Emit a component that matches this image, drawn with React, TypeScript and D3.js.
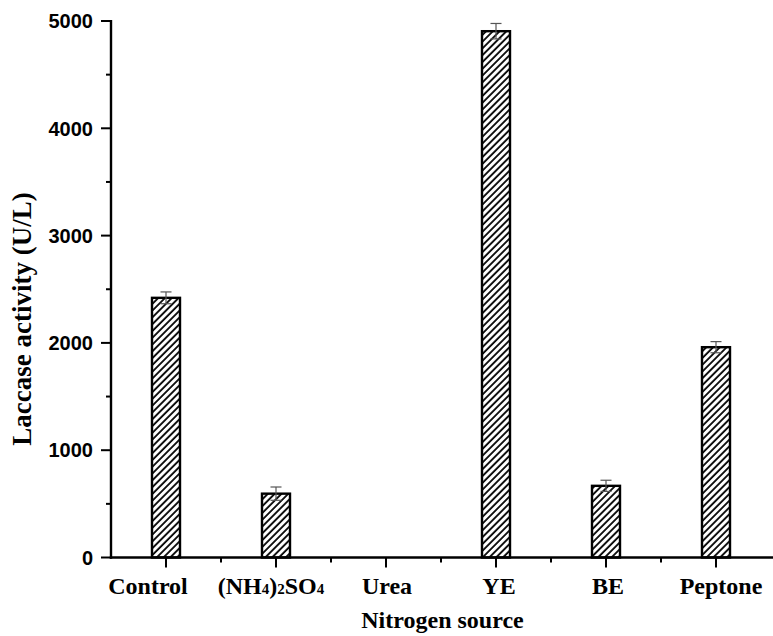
import React, { useEffect, useRef } from 'react';
import * as d3 from 'd3';

// nitrogen sources and laccase activity (U/L)
const categories = ['Control', '(NH4)2SO4', 'Urea', 'YE', 'BE', 'Peptone'];
const activity = [2420, 595, 0, 4905, 668, 1960];
const errors = [55, 62, 0, 72, 52, 52];
const yTicks = [0, 1000, 2000, 3000, 4000, 5000];

const W = 773;
const H = 636;

// small horizontal nudges of the category labels, as in the original figure
const labelShift = [-18, -5, 1, 3, 2, 5];

export default function App() {
  const svgRef = useRef<SVGSVGElement>(null);

  useEffect(() => {
    if (!svgRef.current) return;
    document.body.style.margin = '0';

    const svg = d3.select(svgRef.current);
    svg.selectAll('*').remove();

    const left = 111, right = 771, top = 21, bottom = 557.5;

    const x = d3.scalePoint<string>().domain(categories).range([left, right]).padding(0.5);
    const step = x.step();
    const y = d3.scaleLinear().domain([0, 5000]).range([bottom, top]);

    // hatch pattern
    const defs = svg.append('defs');
    defs.append('pattern')
      .attr('id', 'hatch')
      .attr('patternUnits', 'userSpaceOnUse')
      .attr('width', 4.8)
      .attr('height', 10)
      .attr('patternTransform', 'rotate(45)')
      .append('line')
      .attr('x1', 1).attr('y1', 0)
      .attr('x2', 1).attr('y2', 10)
      .attr('stroke', '#000')
      .attr('stroke-width', 1.8);

    const barW = 28;
    const data = categories.map((c, i) => ({ c, v: activity[i], e: errors[i] }));

    // bars
    svg.append('g')
      .selectAll('rect')
      .data(data.filter(d => d.v > 0))
      .join('rect')
      .attr('x', d => (x(d.c) as number) - barW / 2)
      .attr('y', d => y(d.v))
      .attr('width', barW)
      .attr('height', d => y(0) - y(d.v))
      .attr('fill', 'url(#hatch)')
      .attr('stroke', '#000')
      .attr('stroke-width', 2.4);

    // error bars
    const eg = svg.append('g').attr('stroke', '#555').attr('stroke-width', 1.2);
    data.filter(d => d.v > 0).forEach(d => {
      const cx = x(d.c) as number;
      eg.append('line').attr('x1', cx).attr('x2', cx).attr('y1', y(d.v + d.e)).attr('y2', y(d.v - d.e));
      eg.append('line').attr('x1', cx - 5.5).attr('x2', cx + 5.5).attr('y1', y(d.v + d.e)).attr('y2', y(d.v + d.e));
      eg.append('line').attr('x1', cx - 5.5).attr('x2', cx + 5.5).attr('y1', y(d.v - d.e)).attr('y2', y(d.v - d.e));
    });

    // y axis
    const ya = svg.append('g');
    ya.append('line').attr('x1', left).attr('x2', left).attr('y1', top - 1).attr('y2', bottom + 1.2)
      .attr('stroke', '#000').attr('stroke-width', 2.4);
    const minorY = d3.range(500, 5000, 1000);
    ya.selectAll('line.maj').data(yTicks).join('line').attr('class', 'maj')
      .attr('x1', left - 10).attr('x2', left).attr('y1', d => y(d)).attr('y2', d => y(d))
      .attr('stroke', '#000').attr('stroke-width', 2);
    ya.selectAll('line.min').data(minorY).join('line').attr('class', 'min')
      .attr('x1', left - 5).attr('x2', left).attr('y1', d => y(d)).attr('y2', d => y(d))
      .attr('stroke', '#000').attr('stroke-width', 2);
    ya.selectAll('text').data(yTicks).join('text')
      .attr('x', left - 18).attr('y', d => y(d)).attr('dy', '0.36em')
      .attr('text-anchor', 'end')
      .attr('font-family', 'Liberation Sans, Arial, sans-serif')
      .attr('font-weight', 'bold').attr('font-size', 20)
      .text(d => d);

    // x axis
    const xa = svg.append('g');
    xa.append('line').attr('x1', left - 1.2).attr('x2', W).attr('y1', bottom).attr('y2', bottom)
      .attr('stroke', '#000').attr('stroke-width', 2.4);
    xa.selectAll('line.maj').data(categories).join('line').attr('class', 'maj')
      .attr('x1', d => x(d) as number).attr('x2', d => x(d) as number)
      .attr('y1', bottom).attr('y2', bottom + 10)
      .attr('stroke', '#000').attr('stroke-width', 2);
    const minorX = categories.slice(1).map(c => (x(c) as number) - step / 2);
    xa.selectAll('line.min').data(minorX).join('line').attr('class', 'min')
      .attr('x1', d => d).attr('x2', d => d)
      .attr('y1', bottom).attr('y2', bottom + 5)
      .attr('stroke', '#000').attr('stroke-width', 2);

    const serif = 'Liberation Serif, Times New Roman, serif';
    xa.selectAll('text').data(categories).join('text')
      .attr('x', (d, i) => (x(d) as number) + labelShift[i]).attr('y', 594)
      .attr('text-anchor', 'middle')
      .attr('font-family', serif).attr('font-weight', 'bold').attr('font-size', 24)
      .each(function (d) {
        const t = d3.select(this);
        if (d === '(NH4)2SO4') {
          const parts: [string, boolean][] = [['(NH', false], ['4', true], [')', false], ['2', true], ['SO', false], ['4', true]];
          parts.forEach(([s, sub]) => {
            t.append('tspan').attr('font-size', sub ? 15 : 24).text(s);
          });
        } else {
          t.text(d);
        }
      });

    svg.append('text')
      .attr('x', (left + right) / 2 + 1.5).attr('y', 628)
      .attr('text-anchor', 'middle')
      .attr('font-family', serif).attr('font-weight', 'bold').attr('font-size', 24)
      .text('Nitrogen source');

    svg.append('text')
      .attr('transform', `translate(31,319) rotate(-90)`)
      .attr('text-anchor', 'middle')
      .attr('font-family', serif).attr('font-weight', 'bold').attr('font-size', 27)
      .text('Laccase activity (U/L)');
  }, []);

  return <svg ref={svgRef} width={W} height={H} style={{ display: 'block' }} />;
}
